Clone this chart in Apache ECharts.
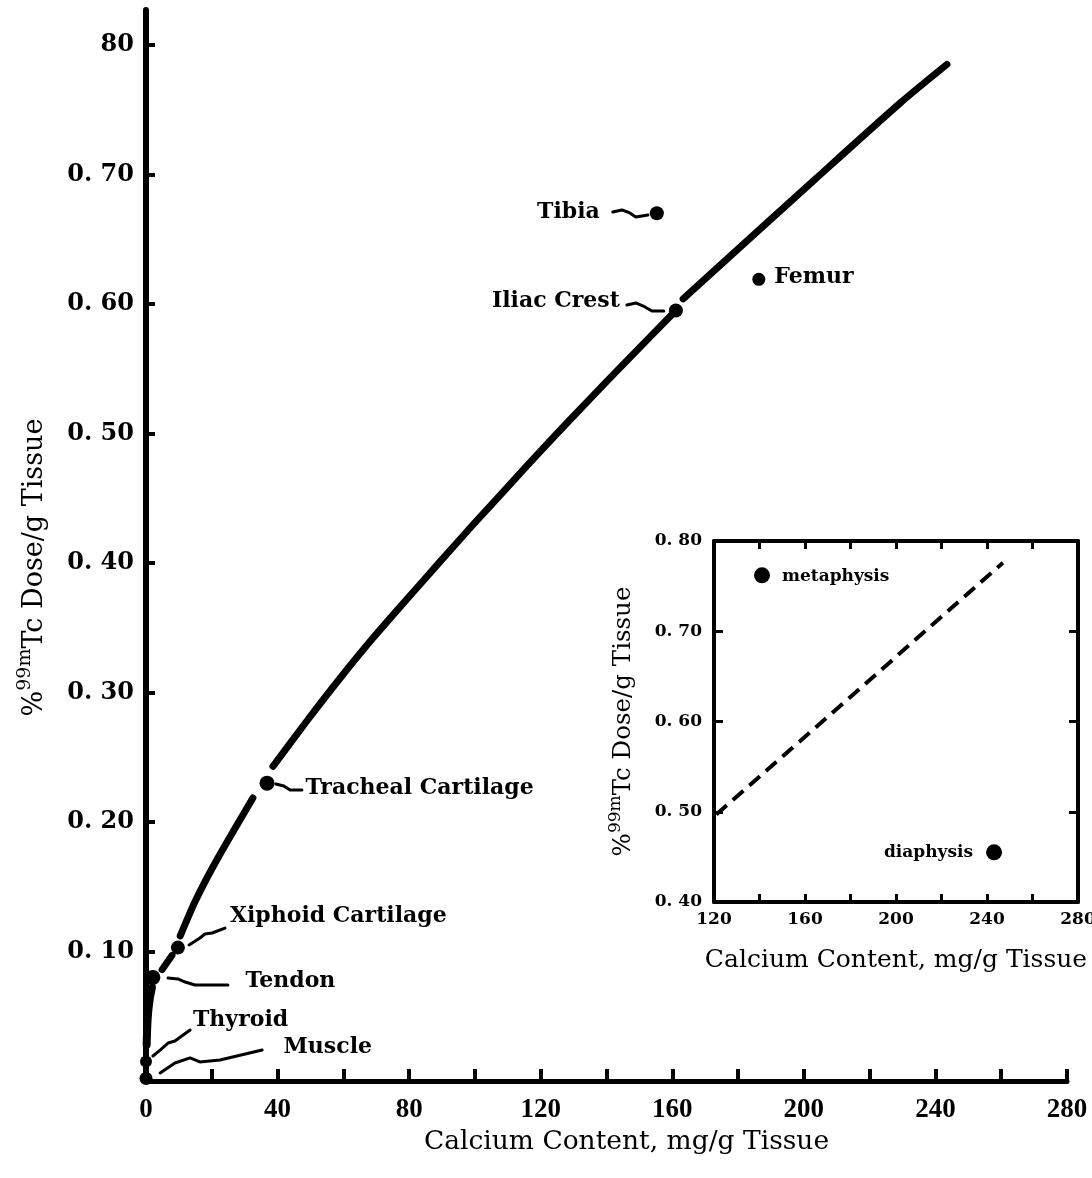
<!DOCTYPE html>
<html>
<head>
<meta charset="utf-8">
<script src="https://cdn.jsdelivr.net/npm/echarts@6/dist/echarts.min.js"></script>
<style>
html,body{margin:0;padding:0;background:#ffffff;}
#chart{width:1092px;height:1178px;}
</style>
</head>
<body>
<div id="chart"></div>
<script>
// ---------------- data ----------------
// Main panel: tissue points
const tissueNames = ['Tibia', 'Femur', 'Iliac Crest', 'Tracheal Cartilage', 'Xiphoid Cartilage', 'Tendon', 'Thyroid', 'Muscle'];
const tissueCalcium = [155.3, 186.3, 161.1, 36.8, 9.7, 2.1, 0.0, 0.0];
const tissueDose = [0.670, 0.619, 0.595, 0.230, 0.103, 0.080, 0.015, 0.002];

// Main panel: fitted curve, drawn in broken pieces
const curveSegA = [[0.2, 0.028], [0.5, 0.048], [1.1, 0.063], [1.8, 0.072]];
const curveSegB = [[4.9, 0.086], [7.9, 0.097]];
const curveSegC = [[10.4, 0.112], [15.0, 0.139], [21.6, 0.171], [32.5, 0.2185]];
const curveSegD = [[38.6, 0.243], [48.9, 0.278], [59.0, 0.311], [69.0, 0.342], [79.3, 0.372], [89.4, 0.401], [99.4, 0.4295], [109.7, 0.458], [119.8, 0.486], [130.0, 0.5135], [140.0, 0.540], [151.1, 0.569], [161.1, 0.595]];
const curveSegE = [[163.3, 0.604], [203.3, 0.696], [229.2, 0.755], [243.5, 0.785]];

// Main panel: hand-drawn leader arrows (label -> point), data coordinates
const leaderTibia = [[141.9, 0.671], [144.7, 0.6726], [147.1, 0.6703], [148.9, 0.6672], [152.6, 0.6687]];
const leaderIliac = [[146.2, 0.5992], [148.9, 0.6008], [151.7, 0.5977], [153.8, 0.5946], [157.4, 0.5946]];
const leaderTracheal = [[47.4, 0.2247], [43.8, 0.2247], [41.9, 0.2278], [39.5, 0.2293]];
const leaderXiphoid = [[24.0, 0.1181], [20.1, 0.1143], [17.9, 0.1135], [16.4, 0.1104], [13.1, 0.1050]];
const leaderTendon = [[24.9, 0.0741], [14.9, 0.0741], [11.9, 0.0764], [9.7, 0.0788], [6.7, 0.0795]];
const leaderThyroid = [[13.4, 0.0394], [8.8, 0.0309], [6.7, 0.0293], [4.3, 0.0239], [2.1, 0.0193]];
const leaderMuscle = [[35.3, 0.0239], [22.5, 0.0162], [16.4, 0.0147], [13.4, 0.0178], [8.8, 0.0139], [4.3, 0.0062]];

// Main panel ticks / labels
const xTickLabelValues = [0, 40, 80, 120, 160, 200, 240, 280];
const yTickValues = [0.1, 0.2, 0.3, 0.4, 0.5, 0.6, 0.7, 0.8];
const yTickLabels = ['0. 10', '0. 20', '0. 30', '0. 40', '0. 50', '0. 60', '0. 70', '80'];

// Inset panel
const insetNames = ['metaphysis', 'diaphysis'];
const insetCalcium = [141.1, 243.1];
const insetDose = [0.762, 0.455];
const insetLineCalcium = [121.0, 176.7, 247.0];
const insetLineDose = [0.497, 0.620, 0.776];
const insetXTickLabelValues = [120, 160, 200, 240, 280];
const insetYTickValues = [0.4, 0.5, 0.6, 0.7, 0.8];
const insetYTickLabels = ['0. 40', '0. 50', '0. 60', '0. 70', '0. 80'];

// ---------------- styling ----------------
const BLACK = '#000000';
const SERIF = 'DejaVu Serif';
const segmentWidths = [8, 7, 7, 7, 7];
const curveSegments = [curveSegA, curveSegB, curveSegC, curveSegD, curveSegE];
const leaders = [leaderTibia, leaderIliac, leaderTracheal, leaderXiphoid, leaderTendon, leaderThyroid, leaderMuscle];

// label placement for each tissue point (style only)
const tissueLabelStyle = {
  'Tibia':              {size: 14, position: 'left',  distance: 37,  padding: [0, 13, 0, 0], offset: [0, -1]},
  'Femur':              {size: 13, position: 'right', distance: 9,   padding: [0, 0, 0, 0],  offset: [0, -2]},
  'Iliac Crest':        {size: 14, position: 'left',  distance: 42,  padding: [0, 7, 0, 0],  offset: [0, -9]},
  'Tracheal Cartilage': {size: 15, position: 'right', distance: 27,  padding: [0, 0, 0, 4],  offset: [0, 5]},
  'Xiphoid Cartilage':  {size: 14, position: 'right', distance: 40,  padding: [0, 0, 0, 5],  offset: [0, -31]},
  'Tendon':             {size: 15, position: 'right', distance: 67,  padding: [0, 0, 0, 18], offset: [0, 4]},
  'Thyroid':            {size: 12, position: 'right', distance: 39,  padding: [0, 0, 0, 2],  offset: [0, -41]},
  'Muscle':             {size: 13, position: 'right', distance: 110, padding: [0, 0, 0, 21], offset: [0, -31]}
};

function pickLabel(values, labels) {
  return function (v) {
    for (let i = 0; i < values.length; i++) {
      if (Math.abs(values[i] - v) < 1e-6) return labels[i];
    }
    return '';
  };
}

function nameRich(main, sup, lh) {
  return {
    p: {fontFamily: SERIF, fontSize: main, color: BLACK, lineHeight: lh, verticalAlign: 'bottom'},
    s: {fontFamily: SERIF, fontSize: sup, color: BLACK, verticalAlign: 'top'},
    t: {fontFamily: SERIF, fontSize: main, color: BLACK, lineHeight: lh, verticalAlign: 'bottom'}
  };
}

const chart = echarts.init(document.getElementById('chart'), null, {renderer: 'canvas'});

const option = {
  backgroundColor: '#ffffff',
  animation: false,
  grid: [
    {left: 146, top: 10, width: 921, height: 1071, outerBoundsMode: 'none', containLabel: false},
    {left: 714, top: 541, width: 364, height: 361, outerBoundsMode: 'none', containLabel: false}
  ],
  xAxis: [
    {
      gridIndex: 0, type: 'value', min: 0, max: 280, interval: 20,
      axisLine: {show: true, onZero: false, lineStyle: {color: BLACK, width: 5}},
      axisTick: {show: true, inside: true, length: 12, lineStyle: {color: BLACK, width: 4}},
      axisLabel: {
        show: true, customValues: xTickLabelValues, formatter: function (v) { return String(v); },
        margin: 16, fontFamily: 'Liberation Serif', fontWeight: 'bold', fontSize: 27, color: BLACK
      },
      splitLine: {show: false},
      name: 'Calcium Content, mg/g Tissue', nameLocation: 'middle', nameGap: 42,
      nameTextStyle: {fontFamily: SERIF, fontSize: 26.5, color: BLACK, padding: [0, 0, 0, 40]}
    },
    {
      gridIndex: 1, type: 'value', min: 120, max: 280, interval: 20, position: 'bottom',
      axisLine: {show: true, onZero: false, lineStyle: {color: BLACK, width: 4}},
      axisTick: {show: true, inside: true, length: 8, lineStyle: {color: BLACK, width: 3}},
      axisLabel: {
        show: true, customValues: insetXTickLabelValues, formatter: function (v) { return String(v); },
        margin: 9, fontFamily: SERIF, fontWeight: 'bold', fontSize: 17, color: BLACK
      },
      splitLine: {show: false},
      name: 'Calcium Content, mg/g Tissue', nameLocation: 'middle', nameGap: 46,
      nameTextStyle: {fontFamily: SERIF, fontSize: 25, color: BLACK}
    },
    {
      gridIndex: 1, type: 'value', min: 120, max: 280, interval: 20, position: 'top',
      axisLine: {show: true, onZero: false, lineStyle: {color: BLACK, width: 4}},
      axisTick: {show: true, inside: true, length: 8, lineStyle: {color: BLACK, width: 3}},
      axisLabel: {show: false},
      splitLine: {show: false}
    }
  ],
  yAxis: [
    {
      gridIndex: 0, type: 'value', min: 0, max: 0.827,
      axisLine: {show: true, onZero: false, lineStyle: {color: BLACK, width: 6}},
      axisTick: {show: true, inside: true, length: 9, customValues: yTickValues, lineStyle: {color: BLACK, width: 4}},
      axisLabel: {
        show: true, customValues: yTickValues, formatter: pickLabel(yTickValues, yTickLabels),
        margin: 12, fontFamily: SERIF, fontWeight: 'bold', fontSize: 24, color: BLACK
      },
      splitLine: {show: false},
      name: '{p|%}{s|99m}{t|Tc Dose/g Tissue}', nameLocation: 'middle', nameGap: 98,
      nameTextStyle: {rich: nameRich(27, 19, 32), padding: [0, 44, 0, 0]}
    },
    {
      gridIndex: 1, type: 'value', min: 0.4, max: 0.8, interval: 0.1, position: 'left',
      axisLine: {show: true, onZero: false, lineStyle: {color: BLACK, width: 4}},
      axisTick: {show: true, inside: true, length: 9, lineStyle: {color: BLACK, width: 3}},
      axisLabel: {
        show: true, customValues: insetYTickValues, formatter: pickLabel(insetYTickValues, insetYTickLabels),
        margin: 12, fontFamily: SERIF, fontWeight: 'bold', fontSize: 17, color: BLACK
      },
      splitLine: {show: false},
      name: '{p|%}{s|99m}{t|Tc Dose/g Tissue}', nameLocation: 'middle', nameGap: 78,
      nameTextStyle: {rich: nameRich(24.5, 17, 29)}
    },
    {
      gridIndex: 1, type: 'value', min: 0.4, max: 0.8, interval: 0.1, position: 'right',
      axisLine: {show: true, onZero: false, lineStyle: {color: BLACK, width: 4}},
      axisTick: {show: true, inside: true, length: 9, lineStyle: {color: BLACK, width: 3}},
      axisLabel: {show: false},
      splitLine: {show: false}
    }
  ],
  series: []
};

// main curve pieces
curveSegments.forEach(function (seg, i) {
  option.series.push({
    type: 'line', xAxisIndex: 0, yAxisIndex: 0, data: seg,
    symbol: 'none', showSymbol: false, smooth: 0.25, clip: false, silent: true, z: 3,
    lineStyle: {color: BLACK, width: segmentWidths[i], cap: 'round', join: 'round'}
  });
});

// leader arrows
option.series.push({
  type: 'lines', coordinateSystem: 'cartesian2d', xAxisIndex: 0, yAxisIndex: 0,
  polyline: true, silent: true, z: 4,
  symbol: ['none', 'arrow'], symbolSize: 9,
  lineStyle: {color: BLACK, width: 3, opacity: 1, curveness: 0, cap: 'round', join: 'round'},
  data: leaders.map(function (c) { return {coords: c}; })
});

// main tissue points with labels
option.series.push({
  type: 'scatter', xAxisIndex: 0, yAxisIndex: 0, clip: false, silent: true, z: 5,
  itemStyle: {color: BLACK, opacity: 1},
  label: {show: true, formatter: '{b}', fontFamily: SERIF, fontWeight: 'bold', fontSize: 22, color: BLACK, opacity: 1},
  data: tissueNames.map(function (n, i) {
    const st = tissueLabelStyle[n];
    return {
      name: n,
      value: [tissueCalcium[i], tissueDose[i]],
      symbolSize: st.size,
      label: {position: st.position, distance: st.distance, padding: st.padding, offset: st.offset}
    };
  })
});

// inset dashed line
option.series.push({
  type: 'line', xAxisIndex: 1, yAxisIndex: 1,
  data: insetLineCalcium.map(function (x, i) { return [x, insetLineDose[i]]; }),
  symbol: 'none', showSymbol: false, clip: false, silent: true, z: 3,
  lineStyle: {color: BLACK, width: 4, type: [14, 8]}
});

// inset points
option.series.push({
  type: 'scatter', xAxisIndex: 1, yAxisIndex: 1, clip: false, silent: true, z: 5,
  symbolSize: 16, itemStyle: {color: BLACK, opacity: 1},
  label: {show: true, formatter: '{b}', fontFamily: SERIF, fontWeight: 'bold', fontSize: 17, color: BLACK, opacity: 1},
  data: insetNames.map(function (n, i) {
    return {
      name: n,
      value: [insetCalcium[i], insetDose[i]],
      label: i === 0 ? {position: 'right', distance: 12, offset: [0, 1]} : {position: 'left', distance: 13, offset: [0, 0]}
    };
  })
});

chart.setOption(option);
</script>
</body>
</html>
